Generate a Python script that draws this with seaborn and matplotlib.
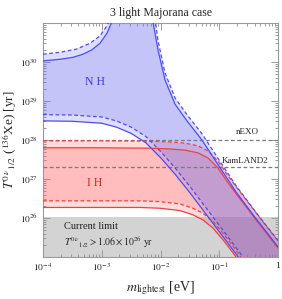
import numpy as np
import pandas as pd
import matplotlib.pyplot as plt
import seaborn as sns

sns.set_theme(style="ticks")
plt.rcParams['font.family'] = ['Liberation Serif', 'DejaVu Serif']
plt.rcParams['mathtext.fontset'] = 'stix'

# all values are log10
# normal hierarchy, lower edge (largest m_bb)
nh_lo_m = [-4, -3.5, -3, -2.75, -2.5, -2.25, -2, -1.75, -1.5, -1.25, -1, -0.75, -0.5, 0]
nh_lo_t = [28.49, 28.48, 28.43, 28.33, 28.17, 27.93, 27.55, 27.12, 26.65, 26.15, 25.65, 25.15, 24.65, 23.65]
nh_lo_t_dash = [28.65, 28.64, 28.59, 28.49, 28.33, 28.09, 27.71, 27.28, 26.81, 26.31, 25.81, 25.31, 24.81, 23.81]

# normal hierarchy, upper edge (runs off the top in the cancellation window)
nh_up_m = [-4, -3.71, -3.49, -3.32, -3.17, -3.03, -2.91, -2.84, -2.80,
           -2.16, -2.128, -2.043, -1.923, -1.753, -1.549, -1.294, -1.004, -0.715, -0.357, 0]
nh_up_t = [30.03, 30.07, 30.12, 30.20, 30.31, 30.48, 30.74, 30.99, 32.0,
           32.0, 31.03, 30.31, 29.54, 28.92, 28.49, 28.0, 27.33, 26.67, 25.95, 25.26]
nh_up_m_dash = [-4, -3.71, -3.43, -3.2, -3.03, -2.92, -2.86, -2.82,
                -2.16, -2.128, -2.043, -1.923, -1.753, -1.549, -1.294, -1.004, -0.715, -0.357, 0]
nh_up_t_dash = [30.20, 30.25, 30.33, 30.48, 30.67, 30.91, 31.1, 32.0,
                32.2, 31.5, 30.55, 29.72, 29.08, 28.65, 28.16, 27.49, 26.83, 26.11, 25.42]

# inverted hierarchy
ih_lo_m = [-4, -3, -2.35, -2.009, -1.668, -1.447, -1.277, -1.106, -0.936, -0.783, -0.5, 0]
ih_lo_t = [26.27, 26.27, 26.27, 26.25, 26.19, 26.08, 25.95, 25.74, 25.44, 25.14, 24.56, 23.56]
ih_lo_t_dash = [26.44, 26.44, 26.44, 26.42, 26.36, 26.25, 26.12, 25.91, 25.61, 25.31, 24.73, 23.73]

ih_up_m = [-4, -3.03, -2.179, -1.838, -1.583, -1.362, -1.191, -1.021, -0.851, -0.681, -0.357, 0]
ih_up_t = [27.80, 27.80, 27.79, 27.77, 27.74, 27.67, 27.54, 27.28, 26.90, 26.56, 25.92, 25.23]
ih_up_t_dash = [27.98, 27.98, 27.97, 27.95, 27.92, 27.85, 27.72, 27.46, 27.08, 26.74, 26.10, 25.41]

# experimental sensitivities / current limit
current_limit = 1.06e26
sens_names = ['nEXO', 'KamLAND2']
sens_values = [1e28, 2e27]

blue_line = '#4d4df0'
blue_fill = '#6e6ef0'
red_line = '#f04040'
red_fill = '#ff5a5a'

fig = plt.figure(figsize=(2.82, 2.99), dpi=100)
ax = fig.add_axes([43 / 282, 42 / 299, 235 / 282, 234 / 299])
ax.set_xscale('log')
ax.set_yscale('log')


def band(lo_m, lo_t, up_m, up_t, color):
    xs = np.r_[10.0 ** np.array(lo_m), 10.0 ** np.array(up_m)[::-1]]
    ys = np.r_[10.0 ** np.array(lo_t), 10.0 ** np.array(up_t)[::-1]]
    ax.fill(xs, ys, color=color, alpha=0.225, lw=0, zorder=2)


def curve(m, t, color, ls):
    df = pd.DataFrame({'m': 10.0 ** np.array(m), 'T': 10.0 ** np.array(t)})
    sns.lineplot(data=df, x='m', y='T', sort=False, estimator=None, color=color,
                 lw=0.9, linestyle=ls, ax=ax, zorder=5)


ax.axhspan(1e24, current_limit, color='#d3d3d3', lw=0, zorder=0)

# IH bands first, NH on top (overlap turns purple)
band(ih_lo_m, ih_lo_t, ih_up_m, ih_up_t, red_fill)
band(ih_lo_m, ih_lo_t_dash, ih_up_m, ih_up_t_dash, red_fill)
band(nh_lo_m, nh_lo_t, nh_up_m, nh_up_t, blue_fill)
band(nh_lo_m, nh_lo_t_dash, nh_up_m_dash, nh_up_t_dash, blue_fill)

for val in sens_values:
    ax.axhline(val, color='#7a7a7a', lw=0.9, ls=(0, (3, 2)), zorder=4)

curve(ih_lo_m, ih_lo_t, red_line, '-')
curve(ih_lo_m, ih_lo_t_dash, red_line, (0, (3, 2)))
curve(ih_up_m, ih_up_t, red_line, '-')
curve(ih_up_m, ih_up_t_dash, red_line, (0, (3, 2)))
curve(nh_lo_m, nh_lo_t, blue_line, '-')
curve(nh_lo_m, nh_lo_t_dash, blue_line, (0, (3, 2)))
curve(nh_up_m, nh_up_t, blue_line, '-')
curve(nh_up_m_dash, nh_up_t_dash, blue_line, (0, (3, 2)))

ax.set_xlim(1e-4, 1)
ax.set_ylim(1e25, 1e31)

ax.set_xticks([1e-4, 1e-3, 1e-2, 1e-1, 1])
ax.set_xticklabels([r'$10^{-4}$', r'$10^{-3}$', r'$10^{-2}$', r'$10^{-1}$', '1'])
ax.set_yticks([1e26, 1e27, 1e28, 1e29, 1e30])
ax.set_yticklabels([r'$10^{26}$', r'$10^{27}$', r'$10^{28}$', r'$10^{29}$', r'$10^{30}$'])
ax.tick_params(which='both', direction='in', top=True, right=True,
               color='#9a9a9a', labelcolor='#222222', labelsize=6.8, width=0.7)
ax.tick_params(which='major', length=5, pad=3.5)
ax.tick_params(which='minor', length=2.5)
for sp in ax.spines.values():
    sp.set_color('#9a9a9a')
    sp.set_linewidth(0.8)

ax.set_xlabel(r'$m_{\rm lightest}$ [eV]', fontsize=10, labelpad=4)
ax.set_ylabel(r'$T^{0\,\nu}{}_{1/2}$ ($^{136}$Xe) [yr]', fontsize=9.5)
ax.yaxis.set_label_coords(-0.102, 0.5)
ax.set_title('3 light Majorana case', fontsize=8.5, pad=5)

ax.text(0.221, 0.748, 'N H', color='#3a3ad0', fontsize=8.5, ha='center', va='center',
        transform=ax.transAxes)
ax.text(0.221, 0.316, 'I H', color='#c82828', fontsize=8.5, ha='center', va='center',
        transform=ax.transAxes)
ax.text(0.87, 0.515, sens_names[0], fontsize=6.5, color='#222222', ha='center',
        va='bottom', transform=ax.transAxes)
ax.text(0.86, 0.395, sens_names[1], fontsize=6.5, color='#222222', ha='center',
        va='bottom', transform=ax.transAxes)
ax.text(0.09, 0.132, 'Current limit', fontsize=7.5, color='#222222', va='center',
        transform=ax.transAxes)
ax.text(0.09, 0.064, r'$T^{0\,\nu}{}_{1/2} > 1.06 \times 10^{26}\ \mathrm{yr}$',
        fontsize=7, color='#222222', va='center', transform=ax.transAxes)

plt.savefig('out.png', dpi=100)
